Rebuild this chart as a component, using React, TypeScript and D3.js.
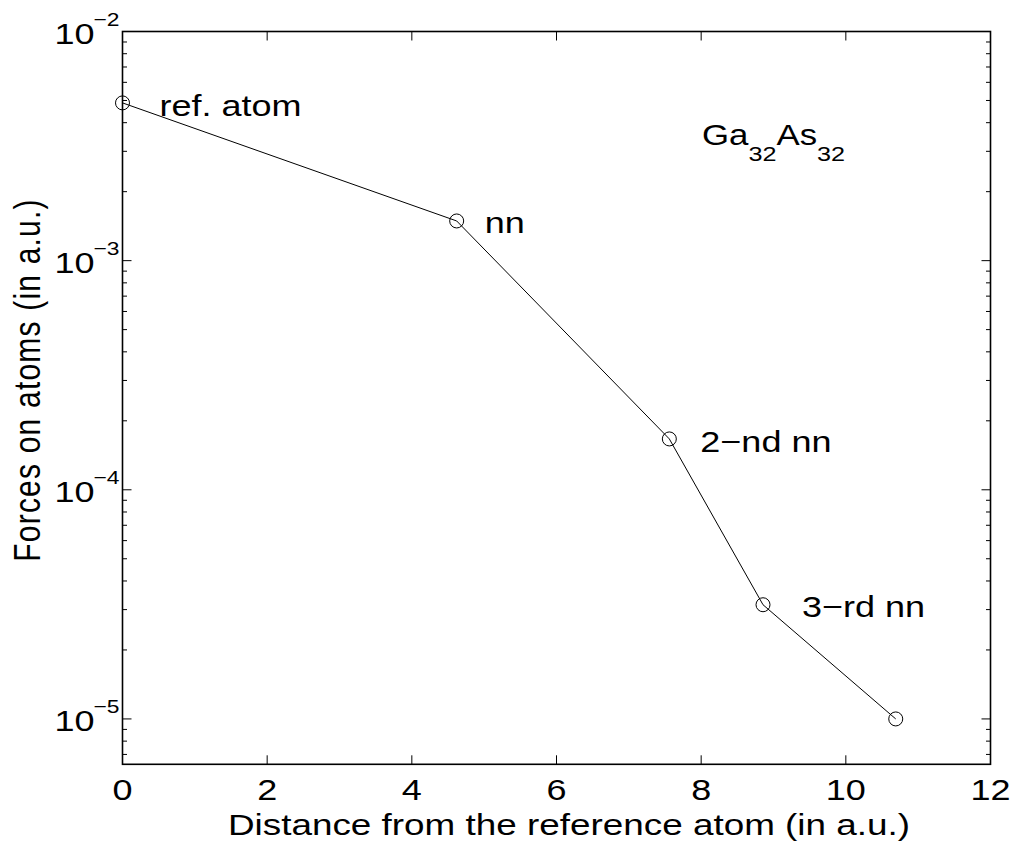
import React from "react";
import * as d3 from "d3";

const distances = [0, 4.62, 7.56, 8.855, 10.69];
const forces = [4.88e-3, 1.49e-3, 1.667e-4, 3.15e-5, 1.0e-5];
const pointLabels = ["ref. atom", "nn", "2−nd nn", "3−rd nn", ""];
const labelOffsets: [number, number][] = [
  [37, 13], [28, 12], [31, 13], [39, 12], [0, 0],
];
const xTicks = [0, 2, 4, 6, 8, 10, 12];
const yDecades = [-2, -3, -4, -5];

const W = 1015, H = 849;
const L = 122.5, R = 990.5, T = 31.5, B = 764.3;
const FONT = "'Liberation Sans', Arial, Helvetica, sans-serif";
const SX = 1.2;

function Txt(props: { x: number; y: number; size: number; anchor?: string; children: React.ReactNode; ls?: number }) {
  return (
    <text
      transform={`translate(${props.x},${props.y}) scale(${SX},1)`}
      fontSize={props.size}
      textAnchor={props.anchor || "start"}
      letterSpacing={props.ls || 0}
    >
      {props.children}
    </text>
  );
}

export default function App() {
  const x = d3.scaleLinear().domain([0, 12]).range([L, R]);
  const y = d3.scaleLog().domain([Math.pow(10, -5.198), 1e-2]).range([B, T]);
  const line = d3.line<number>().x((_, i) => x(distances[i])).y((d) => y(d));

  const minor: number[] = [];
  for (let e = -6; e < -2; e++) {
    for (let k = 2; k <= 9; k++) {
      const v = k * Math.pow(10, e);
      if (v >= y.domain()[0] && v <= 1e-2) minor.push(v);
    }
  }

  return (
    <svg width={W} height={H} style={{ position: "absolute", left: 0, top: 0 }} fontFamily={FONT}>
      <rect x={0} y={0} width={W} height={H} fill="#fff" />
      {xTicks.map((t) => (
        <g key={"x" + t}>
          <line x1={x(t)} x2={x(t)} y1={B} y2={B - 9} stroke="#000" strokeWidth={1} />
          <line x1={x(t)} x2={x(t)} y1={T} y2={T + 9} stroke="#000" strokeWidth={1} />
          <Txt x={x(t)} y={B + 36} size={30} anchor="middle">{t}</Txt>
        </g>
      ))}
      {yDecades.map((e) => {
        const yy = y(Math.pow(10, e));
        return (
          <g key={"y" + e}>
            <line x1={L} x2={L + 9} y1={yy} y2={yy} stroke="#000" strokeWidth={1} />
            <line x1={R} x2={R - 9} y1={yy} y2={yy} stroke="#000" strokeWidth={1} />
            <Txt x={L - 28} y={yy + 12.5} size={30} anchor="end">10</Txt>
            <Txt x={L - 29} y={yy - 5.5} size={19}>{"−" + Math.abs(e)}</Txt>
          </g>
        );
      })}
      {minor.map((v, i) => (
        <g key={"m" + i}>
          <line x1={L} x2={L + 4.5} y1={y(v)} y2={y(v)} stroke="#000" strokeWidth={1} />
          <line x1={R} x2={R - 4.5} y1={y(v)} y2={y(v)} stroke="#000" strokeWidth={1} />
        </g>
      ))}
      <rect x={L} y={T} width={R - L} height={B - T} fill="none" stroke="#000" strokeWidth={1.6} />
      <path d={line(forces) || ""} fill="none" stroke="#000" strokeWidth={1} />
      {forces.map((f, i) => (
        <circle key={"c" + i} cx={x(distances[i])} cy={y(f)} r={7} fill="none" stroke="#000" strokeWidth={1} />
      ))}
      {pointLabels.map((s, i) =>
        s ? (
          <Txt key={"l" + i} x={x(distances[i]) + labelOffsets[i][0]} y={y(forces[i]) + labelOffsets[i][1]} size={30}>
            {s}
          </Txt>
        ) : null
      )}
      <Txt x={702} y={145} size={29}>
        Ga<tspan fontSize={21} dy={16}>32</tspan><tspan dy={-16}>As</tspan><tspan fontSize={21} dy={16}>32</tspan>
      </Txt>
      <text x={569} y={835} fontSize={30} textAnchor="middle" textLength={682} lengthAdjust="spacingAndGlyphs">
        Distance from the reference atom (in a.u.)
      </text>
      <text transform={`translate(40,380) scale(${SX},1) rotate(-90)`} fontSize={30} textAnchor="middle" letterSpacing={1.2}>
        Forces on atoms (in a.u.)
      </text>
    </svg>
  );
}
